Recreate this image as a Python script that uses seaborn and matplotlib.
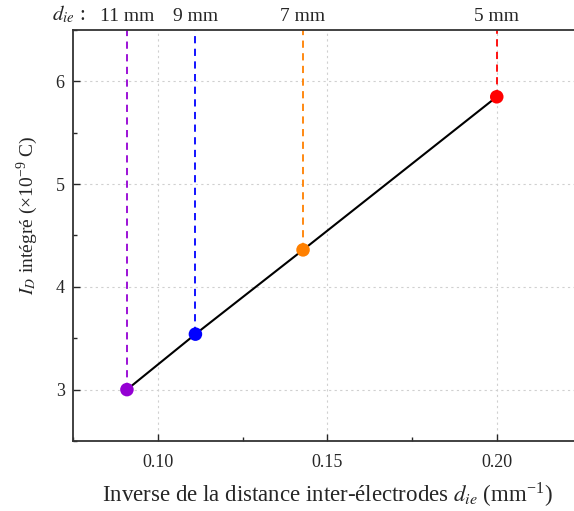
import matplotlib
matplotlib.use("Agg")
import matplotlib.pyplot as plt
import matplotlib.transforms as mtransforms
from matplotlib.ticker import MultipleLocator
import seaborn as sns

# distances inter-electrodes (mm) and integrated current
distances = [11, 9, 7, 5]
inv_dist = [1 / d for d in distances]
charge = [3.00, 3.54, 4.36, 5.85]
colors = ["#9400d3", "#0000ff", "#ff8000", "#ff0000"]
top_labels = ["11 mm", "9 mm", "7 mm", "5 mm"]

sns.set_style("ticks")
plt.rcParams["font.family"] = ["Liberation Serif", "DejaVu Serif"]
plt.rcParams["mathtext.fontset"] = "stix"

fig = plt.figure(figsize=(5.74, 5.11), dpi=100)
ax = fig.add_axes([73 / 574, 1 - 441 / 511, 508.5 / 574, 411 / 511])

ax.set_xlim(0.075, 0.225)
ax.set_ylim(2.5, 6.5)

# dashed lines from each point up to the top
for x, y, c in zip(inv_dist, charge, colors):
    ax.plot([x, x], [y, 6.5], ls=(0, (4, 3)), color=c, lw=1.3, zorder=2)

sns.lineplot(x=inv_dist, y=charge, color="black", lw=1.5, ax=ax, zorder=3)
sns.scatterplot(x=inv_dist, y=charge, hue=top_labels, palette=colors, s=95,
                edgecolor="none", legend=False, ax=ax, zorder=4)

trans = mtransforms.blended_transform_factory(ax.transData, ax.transAxes)
for x, lab in zip(inv_dist, top_labels):
    ax.text(x, 1.012, lab, transform=trans, ha="center", va="bottom", fontsize=14)
ax.text(0.0785, 1.012, r"$d_{ie}$ :", transform=trans, ha="right", va="bottom", fontsize=15)

ax.xaxis.set_major_locator(MultipleLocator(0.05))
ax.xaxis.set_minor_locator(MultipleLocator(0.025))
ax.yaxis.set_major_locator(MultipleLocator(1))
ax.yaxis.set_minor_locator(MultipleLocator(0.5))
ax.xaxis.set_major_formatter(matplotlib.ticker.FormatStrFormatter("%.2f"))
ax.tick_params(which="both", direction="in", labelsize=13, width=1)
ax.tick_params(which="major", length=5)
ax.tick_params(which="minor", length=3)
ax.tick_params(axis="x", pad=9)
ax.tick_params(axis="y", pad=6)
ax.grid(True, which="major", ls=(0, (2, 3)), color="#d0d0d0", lw=0.8)

for s in ax.spines.values():
    s.set_linewidth(1.3)
    s.set_color("#333333")

ax.set_xlabel(r"Inverse de la distance inter-électrodes $d_{ie}$ (mm$^{\mathregular{-1}}$)",
              fontsize=16.5, labelpad=7)
ax.set_ylabel(r"$I_D$ intégré (×10$^{\mathregular{-9}}$ C)", fontsize=14)
ax.yaxis.set_label_coords(-0.064, 0.55)

fig.savefig("out.png", dpi=100)
